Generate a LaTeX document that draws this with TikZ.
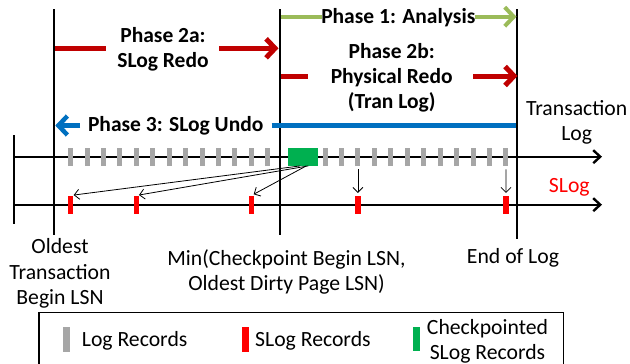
\documentclass[tikz,border=0pt]{standalone}
\usepackage{fontspec}
\setmainfont{Carlito}
\usetikzlibrary{arrows.meta}
\definecolor{phred}{HTML}{C00000}
\definecolor{phgreen}{HTML}{9BBB59}
\definecolor{phblue}{HTML}{0070C0}
\definecolor{recgrey}{HTML}{A6A6A6}
\definecolor{recred}{HTML}{FF0000}
\definecolor{cpgreen}{HTML}{00B050}
\begin{document}
\begin{tikzpicture}[x=1pt,y=-1pt,
  txt/.style={font=\fontsize{21.7}{25}\selectfont, align=center, inner sep=0, anchor=base},
  btxt/.style={txt, font=\fontsize{21.5}{25}\selectfont\bfseries},
  phasearrow/.style={-{Straight Barb[length=9pt,width=19pt]}},
  vline/.style={line width=2.2pt},
  tline/.style={line width=2.4pt, -{Straight Barb[length=7pt,width=13pt]}},
  ptr/.style={line width=0.8pt, -{Straight Barb[length=5pt,width=10pt]}},
  grec/.style={rectangle, fill=recgrey, minimum width=5pt, minimum height=17.4pt, inner sep=0},
  rrec/.style={rectangle, fill=recred, minimum width=5.5pt, minimum height=18.3pt, inner sep=0},
  legbar/.style={rectangle, minimum width=7pt, minimum height=24.5pt, inner sep=0}
]
\clip (0,0) rectangle (630,364);
\fill[white] (0,0) rectangle (630,364);

% vertical markers
\coordinate (l0t) at (14,135);  \coordinate (l0b) at (14,224);
\coordinate (l1t) at (54,9);    \coordinate (l1b) at (54,235);
\coordinate (l2t) at (280,9);   \coordinate (l2b) at (280,235);
\coordinate (l3t) at (516.7,9); \coordinate (l3b) at (516.7,239);
\draw[vline] (l0t) -- (l0b);
\draw[vline] (l1t) -- (l1b);
\draw[vline] (l2t) -- (l2b);
\draw[vline] (l3t) -- (l3b);

% timelines
\coordinate (t1s) at (14,156.7);  \coordinate (t1e) at (602,156.7);
\coordinate (t2s) at (14,204.7);  \coordinate (t2e) at (602,204.7);
\draw[tline] (t1s) -- (t1e);
\draw[tline] (t2s) -- (t2e);

% log records
\foreach \i in {0,...,12} \node[grec] (g\i) at ({70.7+16.42*\i},157) {};
\foreach \i in {0,...,11} \node[grec] (h\i) at ({325+16.45*\i},157) {};
\node[rectangle, fill=cpgreen, minimum width=30pt, minimum height=18pt, inner sep=0] (cp) at (303.3,156.7) {};

% slog records
\node[rrec] (r1) at (70.7,204.8) {};
\node[rrec] (r2) at (136.5,204.8) {};
\node[rrec] (r3) at (251.5,204.8) {};
\node[rrec] (r4) at (357.9,204.8) {};
\node[rrec] (r5) at (506,204.8) {};

% pointers
\draw[ptr, shorten >=3pt] ([xshift=-3pt]cp.south) -- (r1.north);
\draw[ptr, shorten >=2.5pt] ([xshift=5pt]cp.south) -- (r2.north);
\draw[ptr, shorten >=2.5pt] ([xshift=3pt]cp.south) -- (r3.north);
\draw[ptr, shorten <=3.5pt, shorten >=2.5pt] (h2.south) -- (r4.north);
\draw[ptr, shorten <=3.5pt, shorten >=2.5pt] (h11.south) -- (r5.north);

% Phase 1
\draw[phgreen, line width=4pt] (281.2,16.7) -- (321.7,16.7);
\draw[phgreen, line width=4pt, phasearrow] (475,16.7) -- (516.5,16.7);
\node[btxt] (p1) at (398.3,23.3) {Phase 1: Analysis};

% Phase 2a
\draw[phred, line width=5pt] (55.2,48.3) -- (106,48.3);
\draw[phred, line width=5pt, phasearrow] (219.3,48.3) -- (278.5,48.3);
\node[btxt] (p2a) at (163,67.3) {Phase 2a:\\SLog Redo};

% Phase 2b
\draw[phred, line width=5pt] (281.2,76) -- (308.3,76);
\draw[phred, line width=5pt, phasearrow] (473.3,76) -- (517.5,76);
\node[btxt] (p2b) at (391.7,108) {Phase 2b:\\Physical Redo\\(Tran Log)};

% Phase 3
\draw[phblue, line width=4.5pt, phasearrow] (80,125.5) -- (55.3,125.5);
\draw[phblue, line width=4.5pt] (271.7,125.5) -- (515.6,125.5);
\node[btxt] (p3) at (175.7,131.5) {Phase 3: SLog Undo};

% labels
\node[txt] (tlog) at (576.7,140) {Transaction\\Log};
\node[txt, text=recred] (slog) at (569.3,192.7) {SLog};
\node[txt, font=\fontsize{21.7}{25.7}\selectfont] (oldest) at (60,304.7) {Oldest\\Transaction\\Begin LSN};
\node[txt] (minlsn) at (286.5,290.8) {Min(Checkpoint Begin LSN,\\Oldest Dirty Page LSN)};
\node[txt] (eol) at (513,263.2) {End of Log};

% legend
\draw[line width=1.2pt] (39,312.7) rectangle (563.3,380);
\node[legbar, fill=recgrey] (lg) at (66,339.5) {};
\node[txt, anchor=base west] (lgt) at (81.7,346.3) {Log Records};
\node[legbar, fill=recred] (lr) at (245,339.5) {};
\node[txt, anchor=base west] (lrt) at (255,346.3) {SLog Records};
\node[legbar, fill=cpgreen] (lc) at (416.2,339.2) {};
\node[txt] (lct) at (487.5,359.8) {Checkpointed\\SLog Records};
\end{tikzpicture}
\end{document}
